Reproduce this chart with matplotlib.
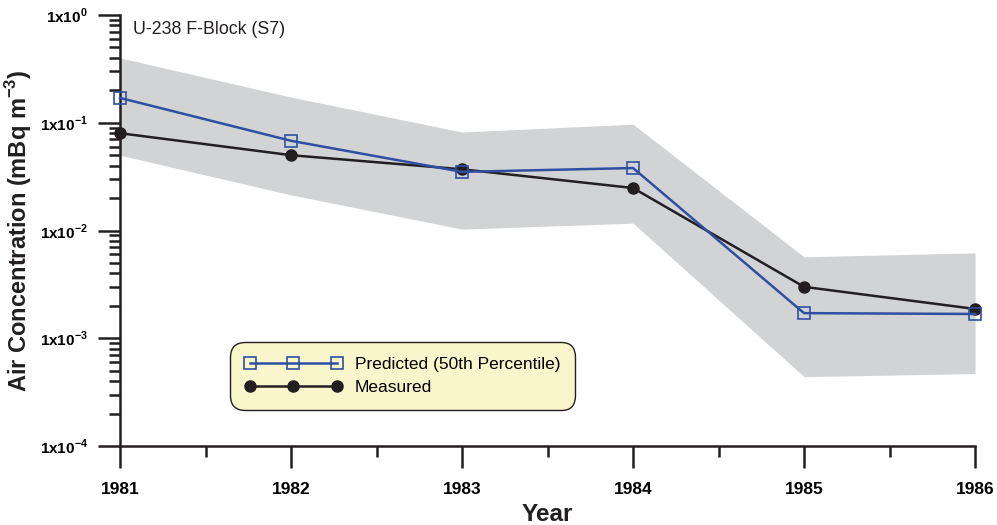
import matplotlib
matplotlib.use("Agg")
import matplotlib.pyplot as plt
from matplotlib.ticker import LogLocator, FixedLocator, NullFormatter

plt.rcParams['font.family'] = ['Liberation Sans', 'DejaVu Sans']
plt.rcParams['mathtext.fontset'] = 'custom'
plt.rcParams['mathtext.rm'] = 'Liberation Sans'
plt.rcParams['mathtext.bf'] = 'Liberation Sans:bold'

# U-238 air concentration, station S7 (mBq m-3)
years = [1981, 1982, 1983, 1984, 1985, 1986]
predicted = [0.170, 0.068, 0.035, 0.038, 0.00171, 0.00168]
measured = [0.080, 0.050, 0.037, 0.0248, 0.0030, 0.00187]
band_upper = [0.40, 0.173, 0.082, 0.097, 0.0057, 0.0062]
band_lower = [0.050, 0.0214, 0.0103, 0.0117, 0.00044, 0.00047]

fig = plt.figure(figsize=(9.97, 5.25), dpi=100)
ax = fig.add_axes([0.1204, 0.1505, 0.8576, 0.8209])

ax.fill_between(years, band_lower, band_upper, color='#d1d3d4', lw=0, zorder=1)
ax.plot(years, predicted, color='#2f4fa2', lw=1.8, marker='s', ms=8,
        mfc='none', mec='#2f4fa2', mew=1.2, clip_on=False, zorder=3,
        label='Predicted (50th Percentile)')
ax.plot(years, measured, color='#231f20', lw=1.8, marker='o', ms=8,
        clip_on=False, zorder=2, label='Measured')

ax.set_yscale('log')
ax.set_ylim(1e-4, 1)
ax.set_xlim(1981, 1986)

# axes look
for s in ['top', 'right']:
    ax.spines[s].set_visible(False)
for s in ['left', 'bottom']:
    ax.spines[s].set_linewidth(1.8)
    ax.spines[s].set_color('#231f20')

ax.set_xticks(years)
ax.set_xticklabels([str(y) for y in years], fontsize=12.5, fontweight='bold')
ax.xaxis.set_minor_locator(FixedLocator([y + 0.5 for y in years[:-1]]))
ax.tick_params(axis='x', which='major', direction='out', length=16, width=1.8,
               pad=10, color='#231f20')
ax.tick_params(axis='x', which='minor', direction='out', length=8, width=1.8,
               color='#231f20')

ydec = [1e-4, 1e-3, 1e-2, 1e-1, 1e0]
ax.set_yticks(ydec)
ax.set_yticklabels([r'1x10$^{\mathbf{%d}}$' % e for e in [-4, -3, -2, -1, 0]],
                   fontsize=11, fontweight='bold')
ax.yaxis.set_minor_locator(LogLocator(base=10, subs=range(2, 10)))
ax.yaxis.set_minor_formatter(NullFormatter())
ax.tick_params(axis='y', which='major', direction='out', length=16, width=1.8,
               pad=7, color='#231f20')
ax.tick_params(axis='y', which='minor', direction='out', length=8, width=1.8,
               color='#231f20')

ax.set_ylabel(r'Air Concentration (mBq m$^{\mathbf{-3}}$)', fontsize=17,
              fontweight='bold', color='#231f20', labelpad=4)
ax.set_xlabel('Year', fontsize=17.5, fontweight='bold', color='#231f20', labelpad=4)

ax.text(0.015, 0.985, 'U-238 F-Block (S7)', transform=ax.transAxes,
        fontsize=12.8, va='top', ha='left', color='#231f20')

leg = ax.legend(loc='upper left', bbox_to_anchor=(0.1287, 0.2413), numpoints=3,
                fontsize=12.5, frameon=True, fancybox=True, handlelength=5.6,
                borderpad=0.85, borderaxespad=0, labelspacing=0.45,
                handletextpad=0.75)
frame = leg.get_frame()
frame.set_facecolor('#faf6cb')
frame.set_edgecolor('#231f20')
frame.set_alpha(1)
frame.set_linewidth(1.0)
frame.set_boxstyle('round,pad=0,rounding_size=0.85')

fig.savefig('out.png', dpi=100)
